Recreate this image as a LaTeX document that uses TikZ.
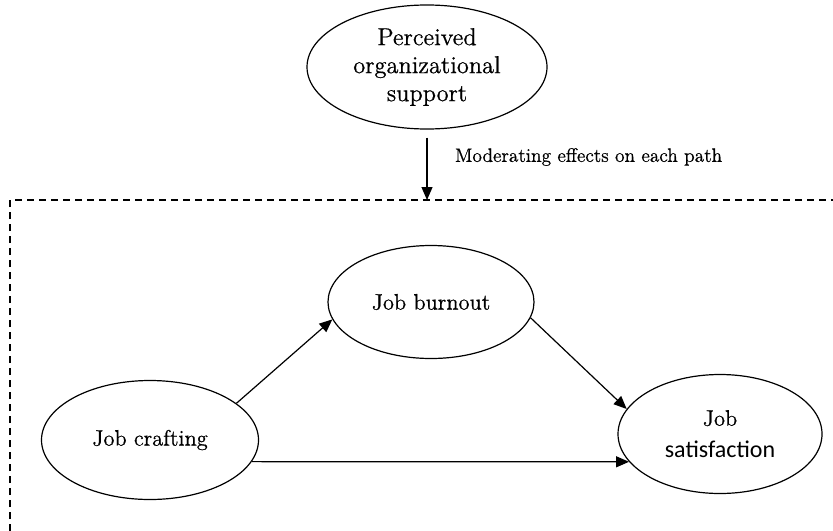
\documentclass[tikz,border=0pt]{standalone}
\usepackage{fontspec}
\setmainfont{lmroman12-regular.otf}[RawFeature={embolden=0.7}]
\newfontfamily\calibrifont{Carlito}
\usetikzlibrary{shapes.geometric, arrows.meta, positioning}
\tikzset{
  x=0.5pt, y=-0.5pt, % one unit is one pixel of the layout, y runs down
  >={Triangle[length=6.5pt, width=5.5pt]}, % filled arrow heads
  construct/.style={draw, ellipse, line width=0.6pt, inner sep=0pt, align=center, font=\fontsize{11.2}{14}\selectfont}, % sets the look of each variable
  path arrow/.style={->, line width=0.6pt}, % the arrows between variables
  moderator box/.style={dash pattern=on 3.5pt off 2.5pt, line width=0.6pt}, % the dashed frame
}

\begin{document}
\begin{tikzpicture}
    \useasboundingbox (0,0) rectangle (833,530);
    \node[construct, minimum width=120pt, minimum height=62pt, font=\fontsize{12.2}{14}\selectfont] (support) at (427,67) {Perceived\\organizational\\support};
    \node[construct, minimum width=108.5pt, minimum height=59.5pt] (crafting) at (150,440) {Job crafting};
    \node[construct, minimum width=103pt, minimum height=56.5pt] (burnout) at (431,302) {Job burnout};
    \node[construct, minimum width=102pt, minimum height=59.5pt, font=\fontsize{11.2}{16}\selectfont] (satisfaction) at (720,434) {Job\\{\calibrifont\fontsize{12}{16}\selectfont satisfaction}};
    \coordinate (frame) at (427,200);
    \node[anchor=west, font=\fontsize{9.7}{12}\selectfont] (moderating) at (448,157) {Moderating effects on each path};

    \draw[moderator box] (10,531) -- (10,200) -- (834,200);
    \draw[path arrow, shorten <=4pt] (support.south) -- (frame);
    \draw[path arrow] (crafting.23) -- (burnout.190);
    \draw[path arrow] (burnout.-9) -- (satisfaction.165);
    \draw[path arrow] (crafting.-12.3) -- (satisfaction.197.3);
\end{tikzpicture}
\end{document}
